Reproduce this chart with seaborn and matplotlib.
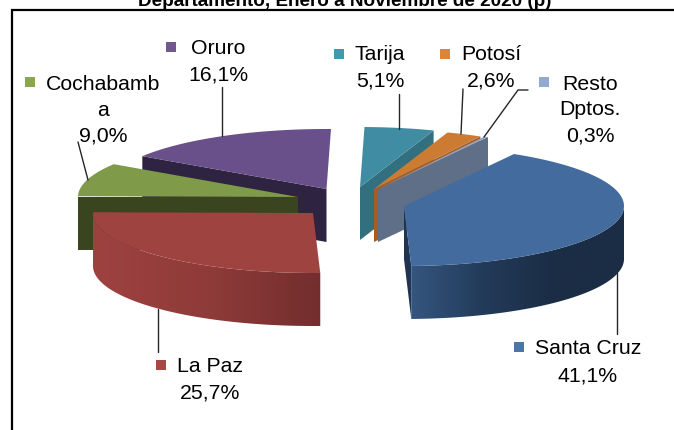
import matplotlib
matplotlib.use("Agg")
import matplotlib.pyplot as plt
from matplotlib.colors import LinearSegmentedColormap
from matplotlib.patches import Polygon
import numpy as np
import seaborn as sns

# values, clockwise from the back edge of Santa Cruz
departments = ["Santa Cruz", "La Paz", "Cochabamba", "Oruro", "Tarija", "Potosí", "Resto Dptos."]
shares = [41.1, 25.7, 9.0, 16.1, 5.1, 2.6, 0.3]
share_labels = ["41,1%", "25,7%", "9,0%", "16,1%", "5,1%", "2,6%", "0,3%"]
title = "Departamento, Enero a Noviembre de 2020 (p)"

top_colors = ["#436b9e", "#9f4341", "#7f9a48", "#69508a", "#3f8ca3", "#cc7b32", "#8ea5cd"]
key_colors = ["#4a76ab", "#aa4644", "#8aa64f", "#71588f", "#4198af", "#db843d", "#93a9cf"]
cut_colors = ["#1f3450", "#752f2e", "#3a4520", "#2e2340", "#33707f", "#a85c20", "#5f6f88"]

# exploded apex of every slice, in picture pixels
apex = {
    "Santa Cruz": (404, 207), "La Paz": (313, 214), "Cochabamba": (298, 198),
    "Oruro": (326.5, 190), "Tarija": (360, 188), "Potosí": (374, 190),
    "Resto Dptos.": (378, 190),
}
RX, RY, DEPTH = 220, 60, 53
START = 60.0

sns.set_theme(style="white")
plt.rcParams["font.family"] = ["Liberation Sans", "DejaVu Sans"]

fig = plt.figure(figsize=(6.74, 4.31), dpi=100)
ax = fig.add_axes([0, 0, 1, 1])

# slice angles from the data
sweep = np.array(shares) / sum(shares) * 360
ends = START - np.cumsum(sweep)
starts = ends + sweep
slices = {d: (s, e) for d, s, e in zip(departments, starts, ends)}
idx = {d: i for i, d in enumerate(departments)}


def rim(name, angle):
    x0, y0 = apex[name]
    a = np.radians(angle)
    return x0 + RX * np.cos(a), y0 - RY * np.sin(a)


def draw_top(name):
    a0, a1 = slices[name]
    pts = [apex[name]] + [rim(name, a) for a in np.linspace(a0, a1, 80)]
    ax.fill(*zip(*pts), color=top_colors[idx[name]], lw=0)


def draw_cut(name, angle):
    x0, y0 = apex[name]
    x1, y1 = rim(name, angle)
    ax.fill([x0, x1, x1, x0], [y0, y1, y1 + DEPTH, y0 + DEPTH], color=cut_colors[idx[name]], lw=0)


def draw_side(name, a0, a1, shades):
    # outer wall, a left to right gradient clipped to the wall shape
    angles = np.linspace(a0, a1, 120)
    upper = [rim(name, a) for a in angles]
    lower = [(x, y + DEPTH) for x, y in upper[::-1]]
    pts = np.array(upper + lower)
    ramp = LinearSegmentedColormap.from_list("wall", shades)
    img = ax.imshow(
        np.linspace(0, 1, 256).reshape(1, -1), cmap=ramp, aspect="auto", zorder=1,
        extent=(pts[:, 0].min(), pts[:, 0].max(), pts[:, 1].max(), pts[:, 1].min()),
    )
    img.set_clip_path(Polygon(pts, transform=ax.transData))


# back to front
draw_cut("Oruro", slices["Oruro"][0])
draw_top("Oruro")
draw_cut("Cochabamba", 180)
draw_top("Cochabamba")
draw_side("La Paz", slices["La Paz"][0], slices["La Paz"][1], ["#9e4240", "#8f3b39", "#722e2d"])
draw_top("La Paz")
for name in ["Tarija", "Potosí", "Resto Dptos."]:
    draw_cut(name, slices[name][1])
    draw_top(name)
draw_cut("Santa Cruz", slices["Santa Cruz"][1])
draw_side("Santa Cruz", slices["Santa Cruz"][1], 0, ["#34567f", "#233b5a", "#1b2d45", "#1b2d45"])
draw_top("Santa Cruz")

# label blocks: text lines, centre x, line y's, swatch centre
blocks = {
    "Santa Cruz": (["Santa Cruz"], 588, [349, 376], (519, 348)),
    "La Paz": (["La Paz"], 210, [367, 393], (161, 366)),
    "Cochabamba": (["Cochabamb", "a"], 103, [84, 111, 136], (30, 83)),
    "Oruro": (["Oruro"], 218, [49, 75], (171, 48)),
    "Tarija": (["Tarija"], 380, [55, 81], (339, 55)),
    "Potosí": (["Potosí"], 491, [55, 81], (445, 55)),
    "Resto Dptos.": (["Resto", "Dptos."], 590, [84, 110, 136], (544, 83)),
}
for name, (lines, cx, ys, swatch) in blocks.items():
    for line, y in zip(lines + [share_labels[idx[name]]], ys):
        ax.text(cx, y, line, ha="center", va="center", fontsize=15.3, color="black")
    ax.scatter(*swatch, marker="s", s=58, color=key_colors[idx[name]], linewidths=0)

# leader lines
leaders = [
    ([222, 222], [88, 137]),
    ([78, 88], [143, 181]),
    ([399, 399], [95, 130]),
    ([463, 461], [90, 135]),
    ([528, 518, 484], [91, 91, 138]),
    ([157.5, 157.5], [310, 353]),
    ([617, 617], [274, 335]),
]
for xs, ys in leaders:
    ax.plot(xs, ys, color="#262626", lw=1.0)

# frame, only left and top show in the crop
ax.plot([11.5, 11.5, 674], [431, 11, 11], color="black", lw=1.6, solid_joinstyle="miter")

ax.text(345, 6, title, ha="center", va="baseline", fontsize=13.6, fontweight="bold", color="black")

ax.set_xlim(0, 674)
ax.set_ylim(431, 0)
ax.axis("off")

fig.savefig("out.png", dpi=100)
